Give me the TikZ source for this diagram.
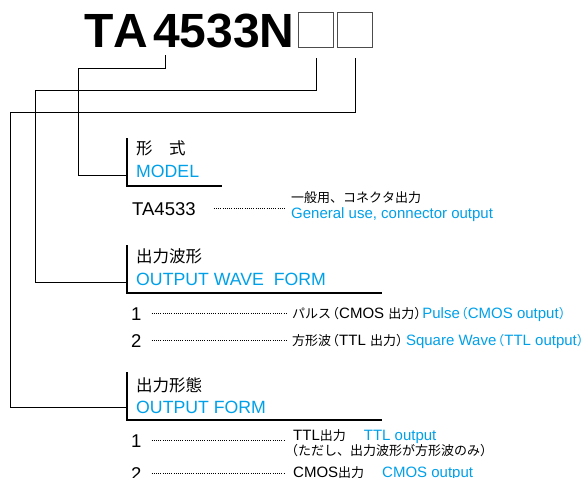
\documentclass[tikz,border=0pt]{standalone}
\usepackage{fontspec}
\setmainfont{Liberation Sans}
\newfontfamily\jpfont[Kerning=Off]{Noto Sans CJK JP}
\newfontfamily\boldfont[Kerning=Off]{Liberation Sans Bold}
\usetikzlibrary{positioning}
\definecolor{catblue}{RGB}{0,160,233}
\newcommand{\jp}[1]{{\jpfont\fontsize{13}{15}\selectfont #1}}
\newcommand{\jh}[1]{{\jpfont\fontsize{16.5}{18}\selectfont #1}}
\newcommand{\lp}{\makebox[8pt][r]{\jp{（}}}
\newcommand{\rp}{\makebox[8pt][l]{\jp{）}}}
\tikzstyle{titletext} = [font=\boldfont\fontsize{48}{50}\selectfont, inner sep=0, anchor=base west]
\tikzstyle{headtext} = [font=\fontsize{17.7}{20}\selectfont, inner sep=0, anchor=base west]
\tikzstyle{codetext} = [font=\fontsize{18.5}{20}\selectfont, inner sep=0, anchor=base west]
\tikzstyle{desctext} = [font=\fontsize{15}{17}\selectfont, inner sep=0, anchor=base west]
\tikzstyle{slot} = [draw=black!70, line width=1pt, minimum width=35pt, minimum height=35pt, inner sep=0, anchor=north west]
\tikzstyle{bracket} = [line width=2.4pt]
\tikzstyle{leader} = [line width=0.8pt]
\tikzstyle{leaderdots} = [dash pattern=on 0.8pt off 1.4pt, line width=0.8pt]

\begin{document}
\begin{tikzpicture}[x=1pt, y=-1pt]
\useasboundingbox (0,0) rectangle (586,477);

% model number and the two option slots
\node (model) [titletext] at (84,47) {TA\hspace{5pt}4533N};
\node (slotA) [slot] at (298,12) {};
\node (slotB) [slot, right=3pt of slotA] {};

\coordinate (leadA) at (165,55);
\coordinate (leadB) at ([yshift=-10pt]slotA.south);
\coordinate (leadC) at ([yshift=-10pt]slotB.south);

% section: model
\coordinate (modelTop) at (127,138);
\coordinate (modelCorner) at (127,186);
\coordinate (modelEnd) at (222,186);
\coordinate (modelJoin) at (127,175);
\node (modelJp) [headtext] at (136,154) {\jh{形　式}};
\node (modelEn) [headtext, text=catblue] at (136,177) {MODEL};
\node (code) [codetext] at (132,215) {TA4533};
\node (codeJp) [desctext] at (291,202) {\jp{一般用、コネクタ出力}};
\node (codeEn) [desctext, text=catblue] at (291,218) {General use, connector output};

% section: output wave form
\coordinate (waveTop) at (127,245);
\coordinate (waveCorner) at (127,293);
\coordinate (waveEnd) at (382,293);
\coordinate (waveJoin) at (127,282);
\node (waveJp) [headtext] at (136,262) {\jh{出力波形}};
\node (waveEn) [headtext, text=catblue] at (136,285) {OUTPUT WAVE\ \ FORM};
\node (wave1) [codetext] at (131,320) {1};
\node (pulse) [desctext] at (292,318) {\jp{パルス}\lp CMOS \jp{出力}\rp\textcolor{catblue}{Pulse\lp CMOS output\rp}};
\node (wave2) [codetext] at (131,347) {2};
\node (square) [desctext] at (292,345) {\jp{方形波}\lp TTL \jp{出力}\rp\hspace{2pt}\textcolor{catblue}{Square Wave\lp TTL output\rp}};

% section: output form
\coordinate (formTop) at (127,372);
\coordinate (formCorner) at (127,420);
\coordinate (formEnd) at (382,420);
\coordinate (formJoin) at (127,407);
\node (formJp) [headtext] at (136,391) {\jh{出力形態}};
\node (formEn) [headtext, text=catblue] at (136,413) {OUTPUT FORM};
\node (form1) [codetext] at (131,447) {1};
\node (ttl) [desctext] at (293,440) {TTL\jp{出力}\hspace{18pt}\textcolor{catblue}{TTL output}};
\node (ttlNote) [desctext] at (285,455) {\jp{（ただし、出力波形が方形波のみ）}};
\node (form2) [codetext] at (131,480) {2};
\node (cmos) [desctext] at (293,477) {CMOS\jp{出力}\hspace{18pt}\textcolor{catblue}{CMOS output}};

% brackets
\draw [bracket] (modelTop) -- (modelCorner) -- (modelEnd);
\draw [bracket] (waveTop) -- (waveCorner) -- (waveEnd);
\draw [bracket] (formTop) -- (formCorner) -- (formEnd);

% leaders from the model number
\draw [leader] (leadA) -- ++(0,13) -| (78,175) -- (modelJoin);
\draw [leader] (leadB) -- (slotA.south |- 0,90) -| (35,282) -- (waveJoin);
\draw [leader] (leadC) -- (slotB.south |- 0,112) -| (10,407) -- (formJoin);

% dotted leaders
\draw [leaderdots] ([xshift=18pt]code.east) -- ([xshift=-6pt]code.east -| codeJp.west);
\draw [leaderdots] ([xshift=10pt]wave1.east) -- ([xshift=-5pt]wave1.east -| pulse.west);
\draw [leaderdots] ([xshift=10pt]wave2.east) -- ([xshift=-5pt]wave2.east -| square.west);
\draw [leaderdots] ([xshift=10pt]form1.east) -- ([xshift=-8pt]form1.east -| ttl.west);
\draw [leaderdots] ([xshift=10pt]form2.east) -- ([xshift=-8pt]form2.east -| cmos.west);

\end{tikzpicture}
\end{document}
